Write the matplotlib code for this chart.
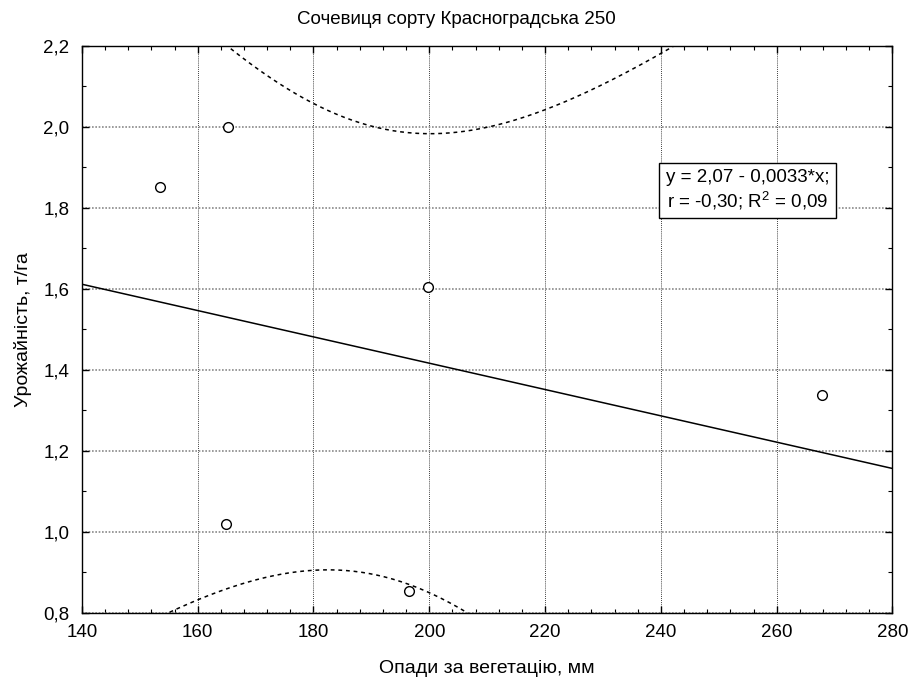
import numpy as np
import matplotlib
matplotlib.use("Agg")
import matplotlib.pyplot as plt
from matplotlib.ticker import MultipleLocator, FuncFormatter

plt.rcParams['font.family'] = ['Liberation Sans', 'DejaVu Sans']
plt.rcParams['mathtext.fontset'] = 'custom'
plt.rcParams['mathtext.rm'] = 'Liberation Sans'
plt.rcParams['mathtext.it'] = 'Liberation Sans'

# Data
rainfall = [153.5, 165.3, 199.8, 164.9, 196.5, 267.9]   # mm
yield_t = [1.852, 2.000, 1.605, 1.018, 0.853, 1.3375]   # t/ha
t_crit = 2.776  # t(0.975, df=4)

title = "Сочевиця сорту Красноградська 250"
xlabel = "Опади за вегетацію, мм"
ylabel = "Урожайність, т/га"
eq_text = "y = 2,07 - 0,0033*x;\nr = -0,30; R$^{2}$ = 0,09"

x = np.array(rainfall)
y = np.array(yield_t)
n = len(x)
slope, intercept = np.polyfit(x, y, 1)
resid = y - (intercept + slope * x)
s = np.sqrt(np.sum(resid ** 2) / (n - 2))
xm = x.mean()
sxx = np.sum((x - xm) ** 2)

xx = np.linspace(140, 280, 400)
yy = intercept + slope * xx
hw = t_crit * s * np.sqrt(1.0 / n + (xx - xm) ** 2 / sxx)

fig = plt.figure(figsize=(9.13, 6.80), dpi=100)
ax = fig.add_axes([0.0897, 0.099, 0.8878, 0.8338])

ax.set_xlim(140, 280)
ax.set_ylim(0.8, 2.2)

ax.xaxis.set_major_locator(MultipleLocator(20))
ax.xaxis.set_minor_locator(MultipleLocator(4))
ax.yaxis.set_major_locator(MultipleLocator(0.2))
ax.yaxis.set_minor_locator(MultipleLocator(0.1))
ax.yaxis.set_major_formatter(FuncFormatter(lambda v, p: f"{v:.1f}".replace('.', ',')))
ax.xaxis.set_major_formatter(FuncFormatter(lambda v, p: f"{v:.0f}"))

ax.tick_params(which='both', direction='in', top=True, right=True, labelsize=13.5, color='black')
ax.tick_params(which='major', length=5, width=1)
ax.tick_params(which='minor', length=3, width=0.8)
ax.tick_params(axis='x', pad=8)
ax.tick_params(axis='y', pad=9)

ax.grid(axis='y', which='major', color='#8a8a8a', linestyle=(0, (1, 1)), linewidth=1.2)
ax.grid(axis='x', which='major', color='black', linestyle=(0, (1, 1.5)), linewidth=0.6)
ax.set_axisbelow(True)

for sp in ax.spines.values():
    sp.set_linewidth(1.0)
    sp.set_color('black')

ax.plot(xx, yy, color='black', linewidth=1.1, zorder=3)
ax.plot(xx, yy + hw, color='black', linewidth=1.1, linestyle=(0, (2.5, 2.5)), zorder=3)
ax.plot(xx, yy - hw, color='black', linewidth=1.1, linestyle=(0, (2.5, 2.5)), zorder=3)

ax.plot(x, y, linestyle='none', marker='o', markersize=7, markerfacecolor='white',
        markeredgecolor='black', markeredgewidth=1.0, zorder=4)

ax.text(0.821, 0.745, eq_text, transform=ax.transAxes, fontsize=13.5, ha='center', va='center',
        linespacing=1.2,
        bbox=dict(boxstyle='square,pad=0.35', facecolor='white', edgecolor='black', linewidth=1.0),
        zorder=5)

fig.text(0.5, 0.971, title, fontsize=13.5, ha='center', va='center')
ax.set_xlabel(xlabel, fontsize=14, labelpad=14)
ax.set_ylabel(ylabel, fontsize=14, labelpad=8)

fig.savefig("out.png", dpi=100)
